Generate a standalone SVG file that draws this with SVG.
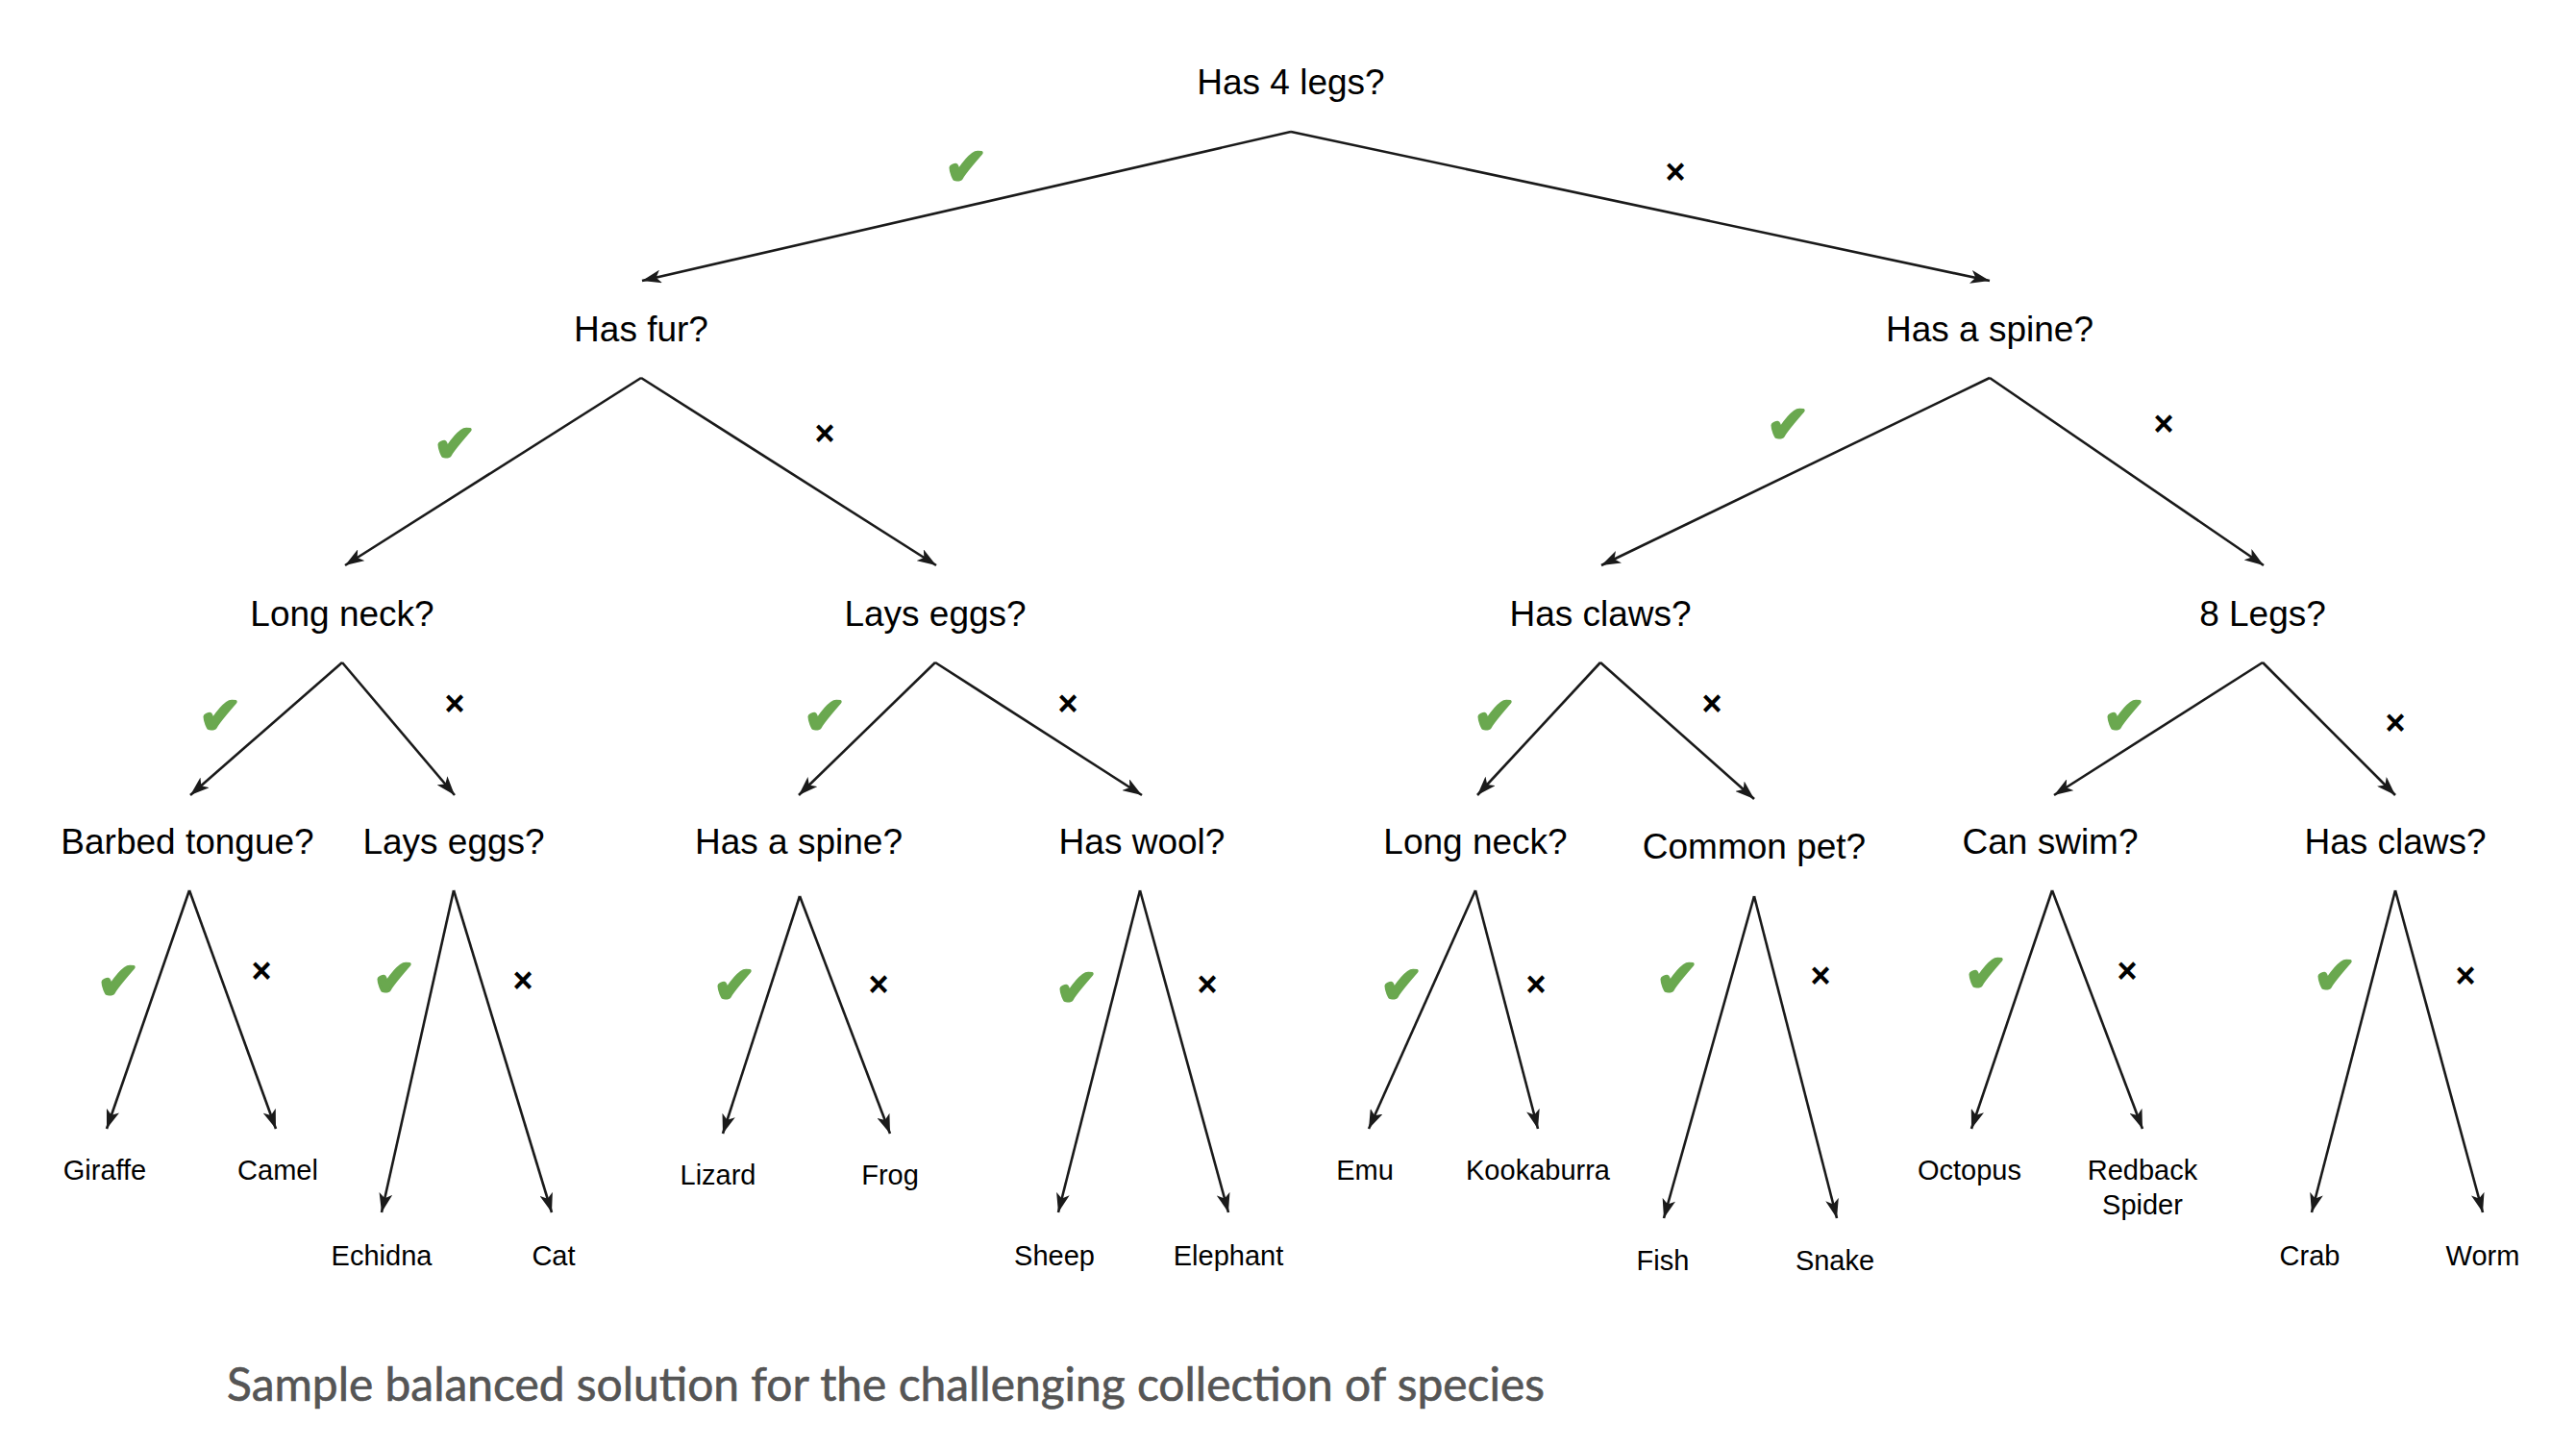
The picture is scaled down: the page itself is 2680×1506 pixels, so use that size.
<svg xmlns="http://www.w3.org/2000/svg" width="2680" height="1506" viewBox="0 0 2680 1506">
<style>
.q{font-family:"Liberation Sans",Arial,sans-serif;font-size:37px;fill:#000;text-anchor:middle}
.l{font-family:"Liberation Sans",Arial,sans-serif;font-size:29px;fill:#000;text-anchor:middle}
.y{font-family:"DejaVu Sans",sans-serif;font-size:54px;fill:#6aa84f;stroke:#6aa84f;stroke-width:2.5;stroke-linejoin:round;text-anchor:middle}
.n{font-family:"Liberation Sans",Arial,sans-serif;font-size:36px;font-weight:bold;fill:#000;text-anchor:middle}
.c{font-family:Lato,"Open Sans",sans-serif;font-size:48px;fill:#555;stroke:#555;stroke-width:0.6}
.e{fill:none;stroke:#1a1a1a;stroke-width:2.6}
</style>
<defs>
<marker id="ah" viewBox="0 0 20 14" refX="20" refY="7" markerWidth="20" markerHeight="14" markerUnits="userSpaceOnUse" orient="auto">
<path d="M0,0 L20,7 L0,14 L5,7 z" fill="#1a1a1a"/>
</marker>
</defs>
<rect width="2680" height="1506" fill="#fff"/>
<g id="connectors">
<path class="e" d="M1343,137 L668,292" marker-end="url(#ah)"/>
<path class="e" d="M1343,137 L2070,292" marker-end="url(#ah)"/>
<path class="e" d="M667,393 L359,588" marker-end="url(#ah)"/>
<path class="e" d="M667,393 L974,588" marker-end="url(#ah)"/>
<path class="e" d="M2070,393 L1666,588" marker-end="url(#ah)"/>
<path class="e" d="M2070,393 L2355,588" marker-end="url(#ah)"/>
<path class="e" d="M356,689 L198,827" marker-end="url(#ah)"/>
<path class="e" d="M356,689 L473,827" marker-end="url(#ah)"/>
<path class="e" d="M973,689 L831,827" marker-end="url(#ah)"/>
<path class="e" d="M973,689 L1188,827" marker-end="url(#ah)"/>
<path class="e" d="M1665,689 L1537,827" marker-end="url(#ah)"/>
<path class="e" d="M1665,689 L1825,831" marker-end="url(#ah)"/>
<path class="e" d="M2354,689 L2137,827" marker-end="url(#ah)"/>
<path class="e" d="M2354,689 L2492,827" marker-end="url(#ah)"/>
<path class="e" d="M197,926 L111,1174" marker-end="url(#ah)"/>
<path class="e" d="M197,926 L287,1174" marker-end="url(#ah)"/>
<path class="e" d="M472,926 L397,1261" marker-end="url(#ah)"/>
<path class="e" d="M472,926 L574,1261" marker-end="url(#ah)"/>
<path class="e" d="M832,932 L752,1179" marker-end="url(#ah)"/>
<path class="e" d="M832,932 L926,1179" marker-end="url(#ah)"/>
<path class="e" d="M1186,926 L1101,1261" marker-end="url(#ah)"/>
<path class="e" d="M1186,926 L1278,1261" marker-end="url(#ah)"/>
<path class="e" d="M1535,926 L1424,1174" marker-end="url(#ah)"/>
<path class="e" d="M1535,926 L1600,1174" marker-end="url(#ah)"/>
<path class="e" d="M1825,932 L1731,1267" marker-end="url(#ah)"/>
<path class="e" d="M1825,932 L1911,1267" marker-end="url(#ah)"/>
<path class="e" d="M2135,926 L2051,1174" marker-end="url(#ah)"/>
<path class="e" d="M2135,926 L2229,1174" marker-end="url(#ah)"/>
<path class="e" d="M2492,926 L2405,1261" marker-end="url(#ah)"/>
<path class="e" d="M2492,926 L2583,1261" marker-end="url(#ah)"/>
</g>
<g id="edge-labels">
<text class="y" x="1005" y="192">✔</text><text class="n" x="1743" y="191">×</text>
<text class="y" x="473" y="480">✔</text><text class="n" x="858" y="463">×</text>
<text class="y" x="1860" y="460">✔</text><text class="n" x="2251" y="453">×</text>
<text class="y" x="229" y="763">✔</text><text class="n" x="473" y="744">×</text>
<text class="y" x="858" y="763">✔</text><text class="n" x="1111" y="744">×</text>
<text class="y" x="1555" y="763">✔</text><text class="n" x="1781" y="744">×</text>
<text class="y" x="2210" y="763">✔</text><text class="n" x="2492" y="764">×</text>
<text class="y" x="123" y="1039">✔</text><text class="n" x="272" y="1022">×</text>
<text class="y" x="410" y="1036">✔</text><text class="n" x="544" y="1032">×</text>
<text class="y" x="764" y="1043">✔</text><text class="n" x="914" y="1036">×</text>
<text class="y" x="1120" y="1046">✔</text><text class="n" x="1256" y="1036">×</text>
<text class="y" x="1458" y="1043">✔</text><text class="n" x="1598" y="1036">×</text>
<text class="y" x="1745" y="1036">✔</text><text class="n" x="1894" y="1027">×</text>
<text class="y" x="2066" y="1031">✔</text><text class="n" x="2213" y="1022">×</text>
<text class="y" x="2429" y="1033">✔</text><text class="n" x="2565" y="1027">×</text>
</g>
<g id="n-root"><text class="q" x="1343" y="98">Has 4 legs?</text></g>
<g id="n-fur"><text class="q" x="667" y="355">Has fur?</text></g>
<g id="n-spine"><text class="q" x="2070" y="355">Has a spine?</text></g>
<g id="n-longneck1"><text class="q" x="356" y="651">Long neck?</text></g>
<g id="n-layseggs1"><text class="q" x="973" y="651">Lays eggs?</text></g>
<g id="n-claws1"><text class="q" x="1665" y="651">Has claws?</text></g>
<g id="n-8legs"><text class="q" x="2354" y="651">8 Legs?</text></g>
<g id="n-barbed"><text class="q" x="195" y="888">Barbed tongue?</text></g>
<g id="n-layseggs2"><text class="q" x="472" y="888">Lays eggs?</text></g>
<g id="n-spine2"><text class="q" x="831" y="888">Has a spine?</text></g>
<g id="n-wool"><text class="q" x="1188" y="888">Has wool?</text></g>
<g id="n-longneck2"><text class="q" x="1535" y="888">Long neck?</text></g>
<g id="n-pet"><text class="q" x="1825" y="893">Common pet?</text></g>
<g id="n-swim"><text class="q" x="2133" y="888">Can swim?</text></g>
<g id="n-claws2"><text class="q" x="2492" y="888">Has claws?</text></g>
<g id="leaf-giraffe"><text class="l" x="109" y="1227">Giraffe</text></g>
<g id="leaf-camel"><text class="l" x="289" y="1227">Camel</text></g>
<g id="leaf-echidna"><text class="l" x="397" y="1316">Echidna</text></g>
<g id="leaf-cat"><text class="l" x="576" y="1316">Cat</text></g>
<g id="leaf-lizard"><text class="l" x="747" y="1232">Lizard</text></g>
<g id="leaf-frog"><text class="l" x="926" y="1232">Frog</text></g>
<g id="leaf-sheep"><text class="l" x="1097" y="1316">Sheep</text></g>
<g id="leaf-elephant"><text class="l" x="1278" y="1316">Elephant</text></g>
<g id="leaf-emu"><text class="l" x="1420" y="1227">Emu</text></g>
<g id="leaf-kookaburra"><text class="l" x="1600" y="1227">Kookaburra</text></g>
<g id="leaf-fish"><text class="l" x="1730" y="1321">Fish</text></g>
<g id="leaf-snake"><text class="l" x="1909" y="1321">Snake</text></g>
<g id="leaf-octopus"><text class="l" x="2049" y="1227">Octopus</text></g>
<g id="leaf-redback"><text class="l" x="2229" y="1227">Redback</text><text class="l" x="2229" y="1263">Spider</text></g>
<g id="leaf-crab"><text class="l" x="2403" y="1316">Crab</text></g>
<g id="leaf-worm"><text class="l" x="2583" y="1316">Worm</text></g>
<text class="c" x="236" y="1457" textLength="1371" lengthAdjust="spacingAndGlyphs">Sample balanced solution for the challenging collection of species</text>
</svg>
